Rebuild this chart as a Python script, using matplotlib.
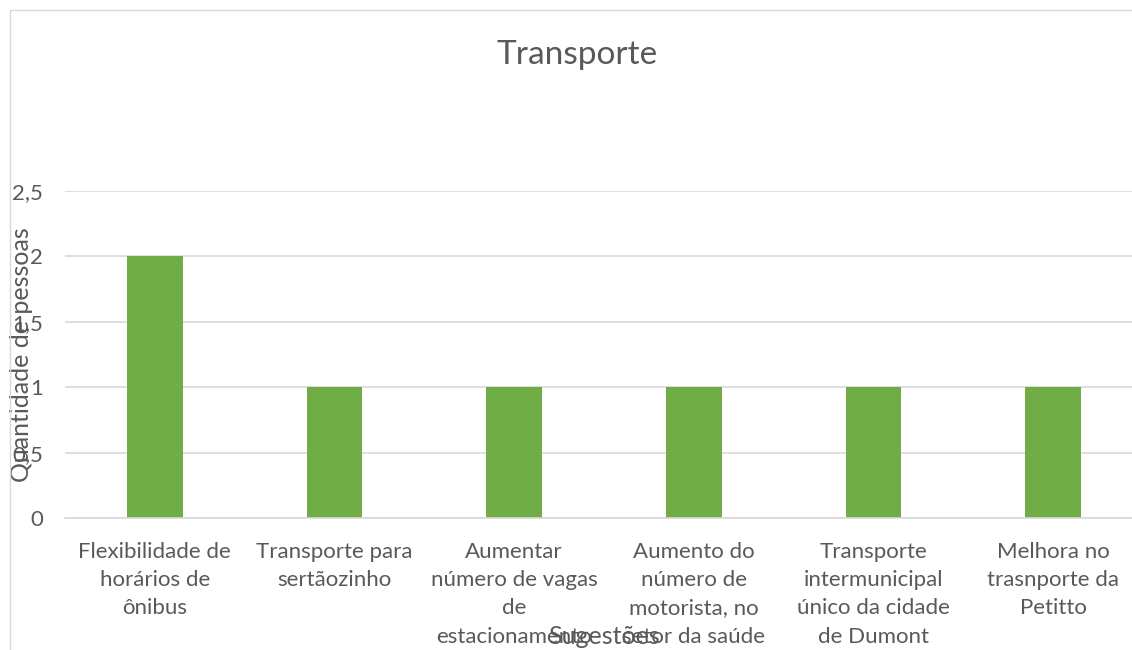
import matplotlib.pyplot as plt
from matplotlib.patches import Rectangle

categorias = [
    "Flexibilidade de\nhorários de\nônibus",
    "Transporte para\nsertãozinho",
    "Aumentar\nnúmero de vagas\nde\nestacionamento",
    "Aumento do\nnúmero de\nmotorista, no\nsetor da saúde",
    "Transporte\nintermunicipal\núnico da cidade\nde Dumont",
    "Melhora no\ntrasnporte da\nPetitto",
]
quantidades = [2, 1, 1, 1, 1, 1]
yticks = [0, 0.5, 1, 1.5, 2, 2.5]
ytick_labels = ["0", "0,5", "1", "1,5", "2", "2,5"]

cinza = "#595959"
plt.rcParams['font.family'] = ['Lato', 'DejaVu Sans']

fig = plt.figure(figsize=(11.32, 6.5), dpi=100)
# borda da área do gráfico (cortada à direita e embaixo)
fig.patches.append(Rectangle((10 / 1132, -0.1), 1.2, 1 - 10 / 650 + 0.1,
                             transform=fig.transFigure, fill=False,
                             edgecolor="#D9D9D9", linewidth=1))

ax = fig.add_axes([65 / 1132, 1 - 518 / 650, 1078 / 1132, 327 / 650])
x = range(len(categorias))
ax.bar(x, quantidades, width=0.31, color="#70AD47", zorder=2)

ax.set_xlim(-0.5, len(categorias) - 0.5)
ax.set_ylim(0, 2.5)
ax.set_yticks(yticks)
ax.set_yticklabels(ytick_labels)
ax.set_xticks(list(x))
ax.set_xticklabels(categorias, linespacing=1.52)
ax.tick_params(axis='both', length=0, labelsize=16, labelcolor=cinza)
ax.tick_params(axis='x', pad=17)
ax.tick_params(axis='y', pad=16)

ax.grid(axis='y', color="#D9D9D9", linewidth=1.2, zorder=0)
for s in ['top', 'right', 'left']:
    ax.spines[s].set_visible(False)
ax.spines['bottom'].set_color("#D9D9D9")
ax.spines['bottom'].set_linewidth(1.2)

fig.text(577 / 1132, 1 - 55 / 650, "Transporte", fontsize=24, color=cinza,
         ha='center', va='center')
ax.set_xlabel("Sugestões", fontsize=18, color=cinza, va='center')
ax.xaxis.set_label_coords(0.5, (518 - 636) / 327)
ax.set_ylabel("Quantidade de pessoas", fontsize=18, color=cinza, va='center')
ax.yaxis.set_label_coords((22 - 65) / 1078, 0.5)

fig.savefig("out.png", dpi=100)
